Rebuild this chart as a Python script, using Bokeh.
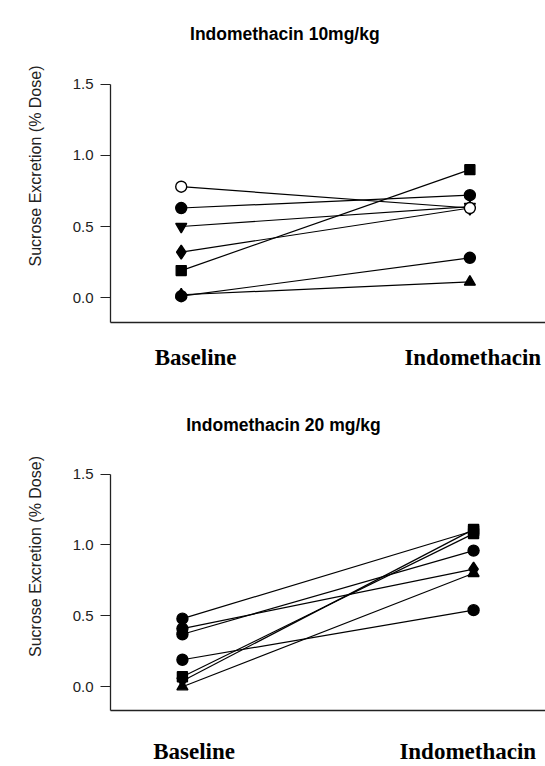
from bokeh.plotting import figure
from bokeh.models import FixedTicker, PrintfTickFormatter, Range1d, ColumnDataSource, Label
from bokeh.layouts import column
from bokeh.embed import file_html
from bokeh.resources import INLINE

# ---- data ----
groups = ["Baseline", "Indomethacin"]
group_x = [0, 1]
y_ticks = [0.0, 0.5, 1.0, 1.5]
y_label = "Sucrose Excretion (% Dose)"

title10 = "Indomethacin 10mg/kg"
base10 = [0.02, 0.50, 0.32, 0.19, 0.01, 0.63, 0.78]
indo10 = [0.11, 0.64, 0.63, 0.90, 0.28, 0.72, 0.63]
base_mk10 = ["triangle", "inverted_triangle", "diamond", "square", "circle", "circle", "circle"]
indo_mk10 = ["triangle", "inverted_triangle", "diamond", "square", "circle", "circle", "circle"]
fill10 = ["black", "black", "black", "black", "black", "black", "white"]

title20 = "Indomethacin 20 mg/kg"
base20 = [0.00, 0.04, 0.07, 0.19, 0.41, 0.37, 0.48]
indo20 = [0.80, 1.11, 1.08, 0.54, 0.83, 0.96, 1.10]
base_mk20 = ["triangle", "inverted_triangle", "square", "circle", "circle", "circle", "circle"]
indo_mk20 = ["triangle", "square", "square", "circle", "diamond", "circle", "square"]
fill20 = ["black"] * 7

MK_SIZE = {"circle": 11, "square": 10, "triangle": 11, "inverted_triangle": 11, "diamond": 14}
Y_AXIS_TOP = 1.5


def make_panel(title, base, indo, base_mk, indo_mk, fills, xr, yr, tick_pos, height,
               mb_left, mb_top, mb_bottom, label_standoff, title_xy):
    p = figure(width=545, height=height, x_range=Range1d(*xr), y_range=Range1d(*yr),
               output_backend="svg", toolbar_location=None,
               min_border_left=mb_left, min_border_right=0,
               min_border_top=mb_top, min_border_bottom=mb_bottom)
    p.outline_line_color = None
    p.grid.visible = False

    # panel title
    p.add_layout(Label(x=title_xy[0], y=title_xy[1], text=title,
                       text_align="center", text_baseline="alphabetic",
                       text_font="Liberation Sans", text_font_style="bold",
                       text_font_size="17.5px", text_color="black"))

    # subject lines
    xs = [group_x for _ in base]
    ys = [[b, i] for b, i in zip(base, indo)]
    p.multi_line(xs=xs, ys=ys, line_color="black", line_width=1.2)

    # markers (drawn per subject, in list order)
    px, py, mk, fc, sz = [], [], [], [], []
    for b, i, mb, mi, f in zip(base, indo, base_mk, indo_mk, fills):
        for xv, yv, m in ((group_x[0], b, mb), (group_x[1], i, mi)):
            px.append(xv); py.append(yv); mk.append(m); fc.append(f); sz.append(MK_SIZE[m])
    src = ColumnDataSource(dict(x=px, y=py, marker=mk, fill=fc, size=sz))
    p.scatter(x="x", y="y", marker="marker", fill_color="fill", size="size",
              line_color="black", line_width=1.4, source=src)

    # y axis
    ya = p.yaxis[0]
    ya.bounds = (yr[0], Y_AXIS_TOP)
    ya.ticker = FixedTicker(ticks=y_ticks)
    ya.formatter = PrintfTickFormatter(format="%.1f")
    ya.major_tick_out = 10
    ya.major_tick_in = 0
    ya.minor_tick_out = 0
    ya.minor_tick_in = 0
    ya.major_label_standoff = 7
    ya.axis_line_width = 1.3
    ya.axis_line_color = "#222222"
    ya.major_tick_line_color = "#222222"
    ya.major_label_text_font = "Liberation Sans"
    ya.major_label_text_font_size = "15px"
    ya.major_label_text_color = "#222222"
    ya.axis_label = y_label
    ya.axis_label_standoff = 26
    ya.axis_label_text_font = "Liberation Sans"
    ya.axis_label_text_font_style = "normal"
    ya.axis_label_text_font_size = "16px"
    ya.axis_label_text_color = "#222222"

    # x axis
    xa = p.xaxis[0]
    xa.ticker = FixedTicker(ticks=tick_pos)
    xa.major_label_overrides = {tick_pos[0]: groups[0], tick_pos[1]: groups[1]}
    xa.major_tick_out = 0
    xa.major_tick_in = 0
    xa.minor_tick_out = 0
    xa.minor_tick_in = 0
    xa.major_label_standoff = label_standoff
    xa.axis_line_width = 1.3
    xa.axis_line_color = "#222222"
    xa.major_label_text_font = "Liberation Serif"
    xa.major_label_text_font_style = "bold"
    xa.major_label_text_font_size = "23px"
    xa.major_label_text_color = "black"
    return p


p1 = make_panel(title10, base10, indo10, base_mk10, indo_mk10, fill10,
                xr=(-0.245, 1.262), yr=(-0.175, 2.026), tick_pos=[0.05, 1.01],
                height=372, mb_left=108, mb_top=9, mb_bottom=49, label_standoff=22,
                title_xy=(0.359, 1.857))
p2 = make_panel(title20, base20, indo20, base_mk20, indo_mk20, fill20,
                xr=(-0.247, 1.247), yr=(-0.168, 2.005), tick_pos=[0.04, 0.98],
                height=394, mb_left=110, mb_top=30, mb_bottom=54, label_standoff=28,
                title_xy=(0.347, 1.843))

layout = column(p1, p2, spacing=0)
open("out.html", "w").write(file_html(layout, INLINE))
